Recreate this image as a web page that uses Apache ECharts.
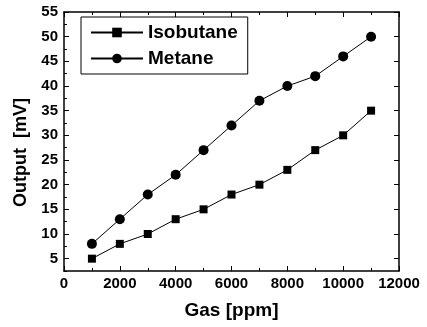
<!DOCTYPE html>
<html>
<head>
<meta charset="utf-8">
<script src="https://cdn.jsdelivr.net/npm/echarts@6/dist/echarts.min.js"></script>
<style>
  html, body { margin: 0; padding: 0; background: #fff; }
  #main { width: 427px; height: 327px; }
</style>
</head>
<body>
<div id="main"></div>
<script>
var gas = [1000, 2000, 3000, 4000, 5000, 6000, 7000, 8000, 9000, 10000, 11000];
var isobutane = [5, 8, 10, 13, 15, 18, 20, 23, 27, 30, 35];
var metane = [8, 13, 18, 22, 27, 32, 37, 40, 42, 46, 50];
var yMajor = [5, 10, 15, 20, 25, 30, 35, 40, 45, 50, 55];
var yMinor = [2.5, 7.5, 12.5, 17.5, 22.5, 27.5, 32.5, 37.5, 42.5, 47.5, 52.5];

function pairs(xs, ys) {
    return xs.map(function (x, i) { return [x, ys[i]]; });
}

var font = 'Liberation Sans, Arial, sans-serif';
var myChart = echarts.init(document.getElementById('main'));

var axisLine = { show: true, lineStyle: { color: '#000', width: 1.5 } };

var option = {
    animation: false,
    backgroundColor: '#fff',
    grid: { left: 64, right: 28, top: 12, bottom: 56 },
    legend: {
        left: 81,
        top: 17,
        orient: 'vertical',
        borderColor: '#000',
        borderWidth: 1,
        borderRadius: 0,
        padding: [6, 10, 6, 9],
        itemGap: 7,
        itemWidth: 52,
        itemHeight: 12,
        textStyle: { fontFamily: font, fontSize: 19, fontWeight: 'bold', color: '#000' },
        data: ['Isobutane', 'Metane']
    },
    xAxis: [{
        type: 'value',
        min: 0,
        max: 12000,
        interval: 2000,
        name: 'Gas [ppm]',
        nameLocation: 'middle',
        nameGap: 30,
        nameTextStyle: { fontFamily: font, fontSize: 19, fontWeight: 'bold', color: '#000' },
        axisLine: axisLine,
        axisTick: { inside: true, length: 5, lineStyle: { color: '#000' } },
        minorTick: { show: true, splitNumber: 2, length: 3, lineStyle: { color: '#000' } },
        axisLabel: {
            fontFamily: font, fontSize: 15, fontWeight: 'bold', color: '#000', margin: 5,
            formatter: function (v) { return String(v); }
        },
        splitLine: { show: false }
    }, {
        type: 'value',
        position: 'top',
        min: 0,
        max: 12000,
        interval: 2000,
        axisLine: axisLine,
        axisTick: { inside: true, length: 5, lineStyle: { color: '#000' } },
        minorTick: { show: true, splitNumber: 2, length: 3, lineStyle: { color: '#000' } },
        axisLabel: { show: false },
        splitLine: { show: false }
    }],
    yAxis: [{
        type: 'value',
        min: 2.5,
        max: 55,
        name: 'Output  [mV]',
        nameLocation: 'middle',
        nameGap: 34,
        nameTextStyle: { fontFamily: font, fontSize: 18, fontWeight: 'bold', color: '#000', padding: [0, 22, 0, 0] },
        axisLine: axisLine,
        axisTick: { inside: true, length: 5, customValues: yMajor, lineStyle: { color: '#000' } },
        axisLabel: { fontFamily: font, fontSize: 15, fontWeight: 'bold', color: '#000', margin: 6, customValues: yMajor },
        splitLine: { show: false }
    }, {
        type: 'value',
        position: 'left',
        min: 2.5,
        max: 55,
        axisLine: { show: false },
        axisTick: { inside: true, length: 3, customValues: yMinor, lineStyle: { color: '#000' } },
        axisLabel: { show: false },
        splitLine: { show: false }
    }, {
        type: 'value',
        position: 'right',
        min: 2.5,
        max: 55,
        axisLine: axisLine,
        axisTick: { inside: true, length: 5, customValues: yMajor, lineStyle: { color: '#000' } },
        axisLabel: { show: false },
        splitLine: { show: false }
    }],
    series: [{
        name: 'Isobutane',
        type: 'line',
        data: pairs(gas, isobutane),
        symbol: 'rect',
        symbolSize: 8,
        itemStyle: { color: '#000' },
        lineStyle: { color: '#000', width: 1 }
    }, {
        name: 'Metane',
        type: 'line',
        data: pairs(gas, metane),
        symbol: 'circle',
        symbolSize: 10,
        itemStyle: { color: '#000' },
        lineStyle: { color: '#000', width: 1 }
    }]
};

myChart.setOption(option);
</script>
</body>
</html>
